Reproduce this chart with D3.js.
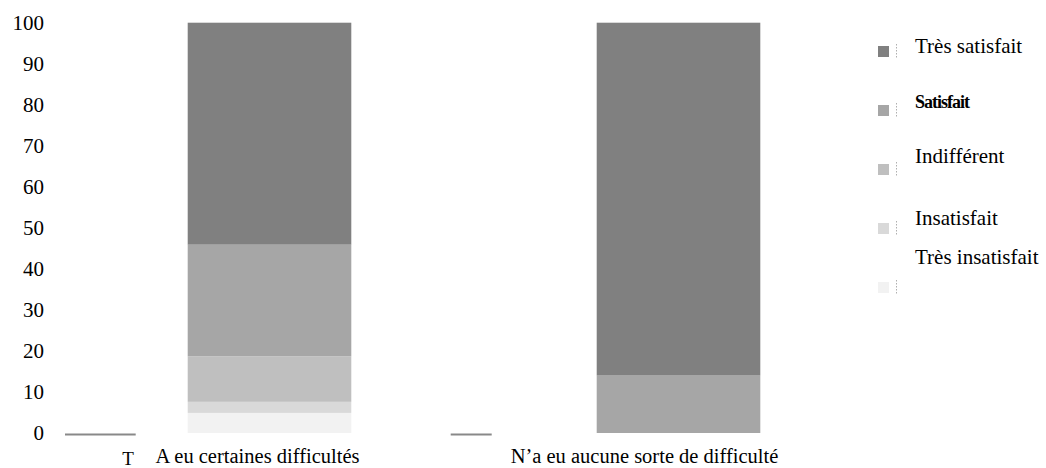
<!DOCTYPE html>
<html>
<head>
<meta charset="utf-8">
<script src="https://cdn.jsdelivr.net/npm/d3@7.9.0/dist/d3.min.js"></script>
<style>
  body { margin: 0; background: #fff; }
  svg text { font-family: "Liberation Serif", "Times New Roman", serif; fill: #000; }
</style>
</head>
<body>
<div id="chart"></div>
<script>
// categories and series (percent)
const categories = ["A eu certaines difficultés", "N\u2019a eu aucune sorte de difficulté"];
const seriesNames = ["Très insatisfait", "Insatisfait", "Indifférent", "Satisfait", "Très satisfait"];
const tresInsatisfait = [4.9, 0];
const insatisfait = [2.7, 0];
const indifferent = [11.1, 0];
const satisfait = [27.2, 14.0];
const tresSatisfait = [54.1, 86.0];
const yTicks = [0, 10, 20, 30, 40, 50, 60, 70, 80, 90, 100];
const colors = ["#f2f2f2", "#d9d9d9", "#bfbfbf", "#a6a6a6", "#808080"];

const width = 1046;
const height = 468;
const serif = '"Liberation Serif", "Times New Roman", serif';

const svg = d3.select("#chart")
    .append("svg")
    .attr("width", width)
    .attr("height", height)
    .attr("font-family", serif);

// build rows for the stack
const rows = categories.map((c, i) => ({
    cat: c,
    "Très insatisfait": tresInsatisfait[i],
    "Insatisfait": insatisfait[i],
    "Indifférent": indifferent[i],
    "Satisfait": satisfait[i],
    "Très satisfait": tresSatisfait[i]
}));
const stacked = d3.stack().keys(seriesNames)(rows);

// scales
const x = d3.scaleBand()
    .domain(categories)
    .range([65, 883])
    .paddingInner(0.6)
    .paddingOuter(0.3);

const y = d3.scaleLinear()
    .domain([0, 100])
    .range([433, 22.7]);

// y axis labels only
const yAxis = svg.append("g")
    .attr("transform", "translate(44,0)")
    .call(d3.axisLeft(y).tickValues(yTicks).tickSize(0).tickPadding(0));
yAxis.attr("font-family", serif).attr("font-size", 21);
yAxis.select(".domain").remove();
yAxis.selectAll("text")
    .attr("fill", "#000")
    .attr("dy", "0.3em");

// bars
svg.append("g")
    .selectAll("g")
    .data(stacked)
    .join("g")
    .attr("fill", (d, i) => colors[i])
    .selectAll("rect")
    .data(d => d)
    .join("rect")
    .attr("x", d => x(d.data.cat))
    .attr("y", d => y(d[1]))
    .attr("width", x.bandwidth())
    .attr("height", d => Math.max(0, y(d[0]) - y(d[1])));

// baseline fragments
const baseY = y(0) + 1.5;
[[x.range()[0], x(categories[0]) - 52], [x(categories[1]) - 146, x(categories[1]) - 105]].forEach(([a, b]) => {
    svg.append("line")
        .attr("x1", a).attr("x2", b)
        .attr("y1", baseY).attr("y2", baseY)
        .attr("stroke", "#898989")
        .attr("stroke-width", 2);
});

// category labels
const labelShift = [-12, -34];
svg.append("g")
    .selectAll("text")
    .data(categories)
    .join("text")
    .attr("x", (d, i) => x(d) + x.bandwidth() / 2 + labelShift[i])
    .attr("y", 463)
    .attr("text-anchor", "middle")
    .attr("font-size", 20.5)
    .text(d => d);

svg.append("text")
    .attr("x", 128)
    .attr("y", 465)
    .attr("text-anchor", "middle")
    .attr("font-size", 19)
    .text("T");

// legend (top to bottom: Très satisfait ... Très insatisfait)
const legendOrder = seriesNames.slice().reverse();
const legendColors = colors.slice().reverse();
const textOffset = [7, 3, -1, 2, -18];
const legend = svg.append("g");
legendOrder.forEach((name, i) => {
    const top = 46 + i * 59;
    legend.append("rect")
        .attr("x", 878).attr("y", top)
        .attr("width", 11).attr("height", 11)
        .attr("fill", legendColors[i]);
    legend.append("line")
        .attr("x1", 896.5).attr("x2", 896.5)
        .attr("y1", top - 2).attr("y2", top + 12)
        .attr("stroke", "#9a9a9a")
        .attr("stroke-width", 0.8)
        .attr("stroke-dasharray", "1.5,1.5");
    const t = legend.append("text")
        .attr("x", 915)
        .attr("y", top + textOffset[i])
        .attr("font-size", 21)
        .text(name);
    if (name === "Satisfait") {
        t.attr("font-size", 18)
         .attr("font-weight", "bold")
         .attr("letter-spacing", "-1px")
         .attr("fill", "#222");
    }
});
</script>
</body>
</html>
